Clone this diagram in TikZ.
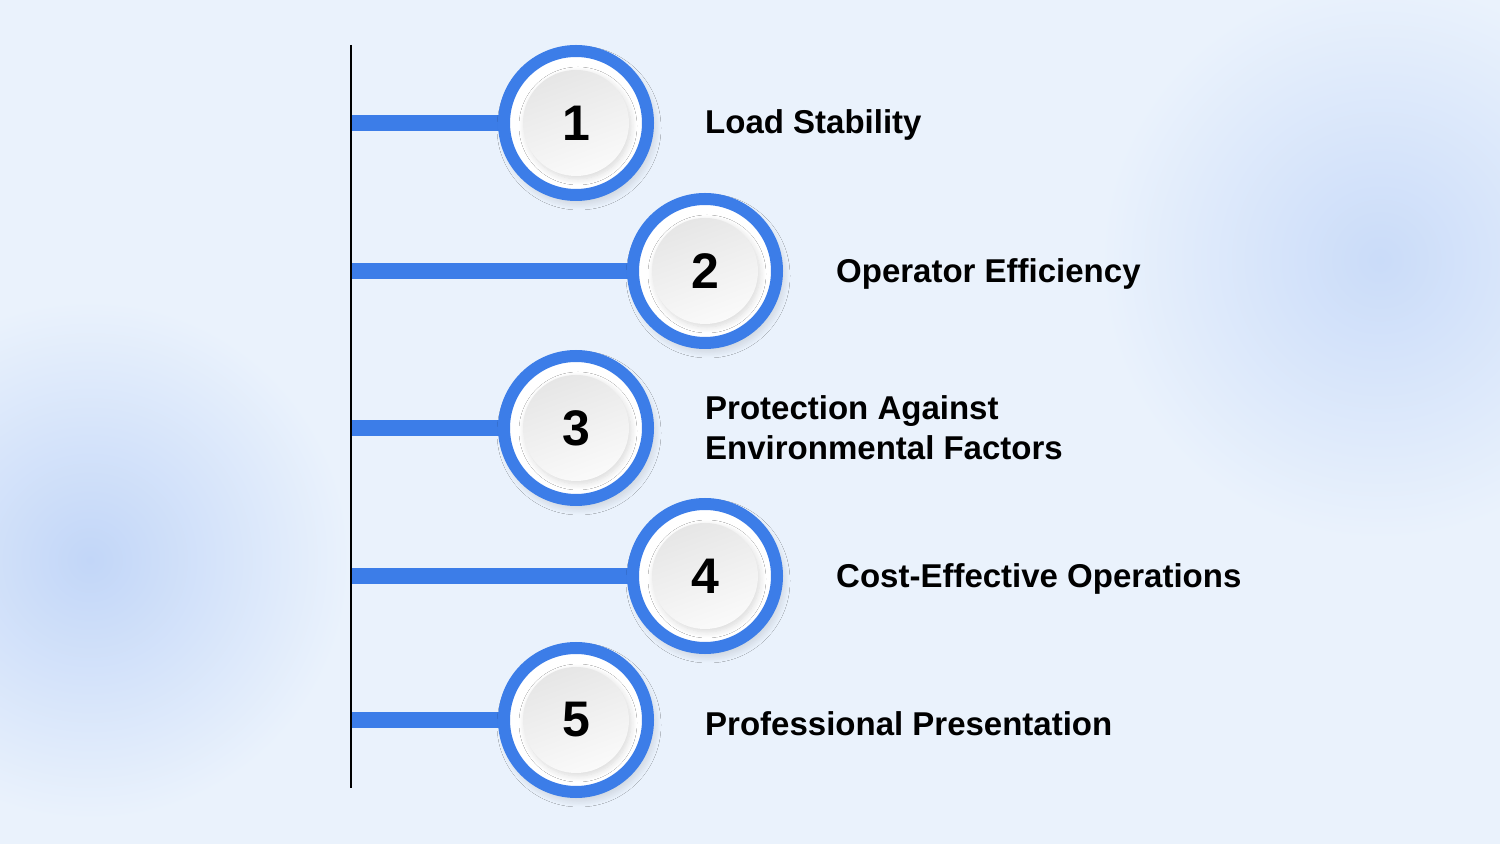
\documentclass[tikz,border=0pt]{standalone}
\usepackage{fontspec}
\setmainfont{Liberation Sans}
\usetikzlibrary{shadows.blur}
\definecolor{bg}{HTML}{EAF2FC}
\definecolor{blob}{HTML}{C2D6F8}
\definecolor{ringblue}{HTML}{3C7DE8}
\definecolor{discA}{HTML}{E6E6E6}
\definecolor{discB}{HTML}{FAFAFA}
\tikzset{
  ring/.style={circle, draw=ringblue, line width=12pt, fill=white, minimum size=144pt, inner sep=0pt,
    blur shadow={shadow xshift=3pt, shadow yshift=-5pt, shadow blur steps=16, shadow opacity=22, shadow blur radius=10pt}},
  disc/.style={circle, minimum size=106pt, inner sep=0pt, top color=discA, bottom color=discB, shading angle=20,
    blur shadow={shadow xshift=2pt, shadow yshift=-3pt, shadow blur steps=10, shadow opacity=15, shadow blur radius=6pt},
    font=\fontsize{50}{50}\selectfont\bfseries, text=black},
  bar/.style={draw=ringblue, line width=16pt},
  label/.style={anchor=west, align=left, font=\fontsize{33}{40}\selectfont\bfseries, text=black, inner sep=0pt},
  spine/.style={draw=black, line width=2pt}
}
\begin{document}
\begin{tikzpicture}[x=1pt,y=1pt]
\useasboundingbox (0,0) rectangle (1500,844);
\fill[bg] (0,0) rectangle (1500,844);
\begin{scope}
\clip (0,0) rectangle (1500,844);
\shade[inner color=blob, outer color=bg] (90,284) circle (260);
\shade[inner color=blob!80!bg, outer color=bg] (1380,584) circle (280);
\end{scope}
% spine
\coordinate (top) at (351,799);
\coordinate (bot) at (351,56);
% circle positions
\coordinate (p1) at (576,721);
\coordinate (p2) at (705,573);
\coordinate (p3) at (576,416);
\coordinate (p4) at (705,268);
\coordinate (p5) at (576,124);
% bars
\foreach \i in {1,...,5} {
  \draw[bar] (p\i) -- (p\i -| top);
}
% rings
\node[ring] (r1) at (p1) {};
\node[ring] (r2) at (p2) {};
\node[ring] (r3) at (p3) {};
\node[ring] (r4) at (p4) {};
\node[ring] (r5) at (p5) {};
\draw[spine] (top) -- (bot);
\node[disc] (d1) at (r1) {1};
\node[disc] (d2) at (r2) {2};
\node[disc] (d3) at (r3) {3};
\node[disc] (d4) at (r4) {4};
\node[disc] (d5) at (r5) {5};
% labels
\node[label] (t1) at (705,719) {Load Stability};
\node[label] (t2) at (836,570) {Operator Efficiency};
\node[label] (t3) at (705,416) {Protection Against\\Environmental Factors};
\node[label] (t4) at (836,265) {Cost-Effective Operations};
\node[label] (t5) at (705,120) {Professional Presentation};
\end{tikzpicture}
\end{document}
